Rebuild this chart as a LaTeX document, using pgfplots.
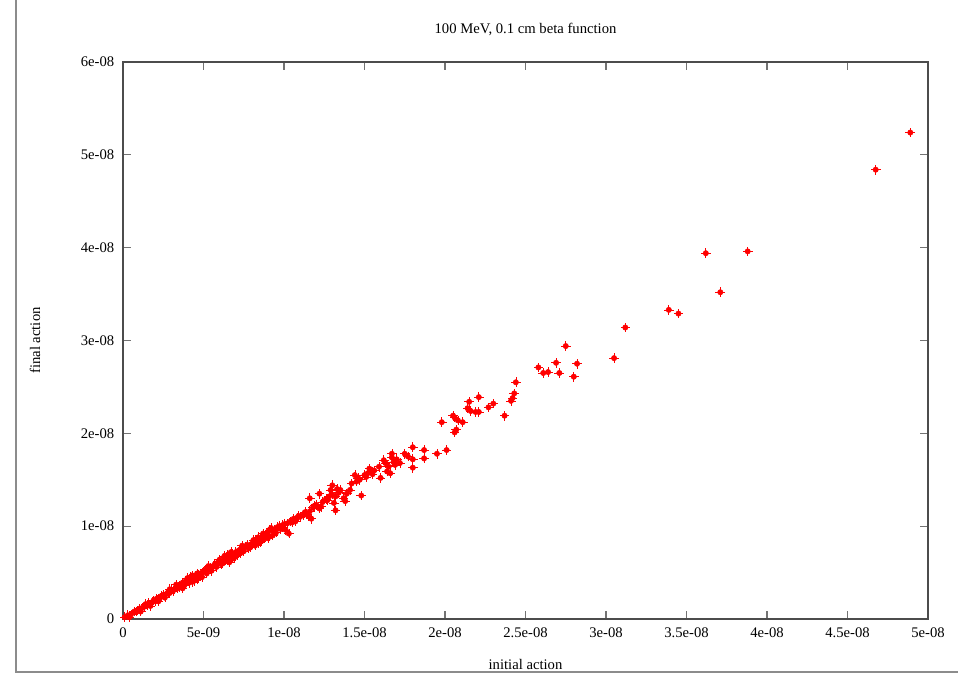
\documentclass[border=0pt]{standalone}
\usepackage{pgfplots}
\pgfplotsset{compat=1.18}
\usepackage{fontspec}
\setmainfont{Liberation Serif}
% values in units of 1e-9; each "+" is drawn as a pair of fixed-size error bars
\begin{document}
\begin{tikzpicture}
\begin{axis}[
  scale only axis,
  width=603.75pt, height=417.75pt,
  xmin=0, xmax=50, ymin=0, ymax=60,
  xtick={0,5,...,50},
  xticklabels={0,5e-09,1e-08,1.5e-08,2e-08,2.5e-08,3e-08,3.5e-08,4e-08,4.5e-08,5e-08},
  ytick={0,10,...,60},
  yticklabels={0,1e-08,2e-08,3e-08,4e-08,5e-08,6e-08},
  tick align=inside,
  major tick length=6pt,
  xtick pos=both, ytick pos=both,
  tick style={draw=black!55, line width=1pt},
  axis line style={draw=black!70, line width=1.3pt},
  every tick label/.append style={font=\fontsize{11}{13}\selectfont, text=black},
  xticklabel style={yshift=-3pt},
  yticklabel style={xshift=-3pt},
  title={100 MeV, 0.1 cm beta function},
  title style={font=\fontsize{11}{13}\selectfont, text=black, at={(0.5,1)}, anchor=center, yshift=18.75pt},
  xlabel={initial action},
  ylabel={final action},
  label style={font=\fontsize{11}{13}\selectfont, text=black},
  xlabel style={at={(0.5,0)}, anchor=center, yshift=-33.75pt},
  ylabel style={at={(0,0.5)}, anchor=center, yshift=66pt},
  clip=false,
]
\addplot[only marks, mark=none, red,
  error bars/.cd, x dir=both, y dir=both, x fixed=0.3, y fixed=0.52,
  error mark=none, error bar style={draw=red, line width=0.5pt, line cap=butt}] table {
x y
0.1 0.2
0.3 0.4
0.4 0.2
0.5 0.5
0.7 0.8
0.85 0.8
0.9 0.9
1.0 1.1
1.1 0.8
1.2 1.2
1.3 1.3
1.4 1.6
1.5 1.5
1.6 1.7
1.7 1.4
1.8 1.8
1.9 2.0
2.0 1.9
2.1 2.2
2.2 2.2
2.2 1.9
2.3 2.3
2.4 2.5
2.5 2.6
2.6 2.3
2.7 2.7
2.8 2.9
2.9 2.8
2.9 3.2
3.0 3.1
3.1 3.0
3.2 3.2
3.3 3.4
3.3 3.7
3.4 3.3
3.5 3.6
3.5 3.4
3.6 3.7
3.6 3.5
3.7 3.9
3.7 3.3
3.8 3.6
3.9 3.8
3.9 4.1
4.0 4.1
4.0 4.4
4.1 3.9
4.1 4.3
4.2 4.2
4.2 4.5
4.3 4.0
4.3 4.7
4.4 4.4
4.4 4.1
4.5 4.6
4.6 4.3
4.6 4.9
4.7 4.8
4.7 4.4
4.8 4.6
4.9 5.0
4.9 4.5
5.0 5.1
5.1 5.3
5.2 4.9
5.3 5.3
5.3 5.7
5.4 5.5
5.5 5.2
5.6 5.7
5.7 5.9
5.8 5.6
5.9 6.1
6.0 6.2
6.0 6.4
6.1 5.9
6.2 6.0
6.3 6.4
6.3 6.8
6.4 6.6
6.5 6.3
6.5 6.9
6.5 6.7
6.6 6.1
6.6 6.8
6.7 6.7
6.7 7.2
6.8 7.0
6.8 6.5
6.9 6.6
7.0 7.2
7.0 6.8
7.1 6.9
7.1 7.1
7.2 7.4
7.3 7.1
7.3 7.5
7.4 7.6
7.4 7.9
7.5 7.3
7.6 7.8
7.7 8.0
7.8 7.6
7.9 7.7
8.0 8.1
8.0 8.0
8.1 8.3
8.1 8.5
8.2 7.9
8.2 8.5
8.3 8.4
8.3 8.2
8.4 8.2
8.4 8.8
8.5 8.6
8.5 8.3
8.6 8.4
8.7 8.9
8.7 9.2
8.8 8.7
8.8 9.0
8.9 9.1
9.0 9.4
9.0 8.7
9.0 9.0
9.1 8.9
9.1 9.6
9.2 9.8
9.3 9.0
9.3 9.5
9.4 9.6
9.5 9.3
9.6 9.9
9.7 10.0
9.8 9.7
9.9 9.9
9.9 10.1
10.0 10.2
10.1 9.6
10.2 10.3
10.3 9.2
10.4 10.5
10.5 10.4
10.6 10.8
10.7 10.5
10.8 10.9
10.9 11.1
11.0 11.0
11.2 11.2
11.3 11.5
11.4 11.3
11.5 11.1
11.6 11.6
11.6 13.0
11.7 10.8
11.8 12.0
11.9 12.2
12.0 12.3
12.2 11.9
12.2 13.5
12.3 12.1
12.4 12.6
12.6 12.9
12.7 12.8
12.8 13.2
12.9 13.9
13.0 14.4
13.0 13.4
13.1 12.5
13.2 13.2
13.2 11.7
13.3 14.0
13.4 13.6
13.5 13.9
13.7 13.0
13.8 12.7
13.9 13.5
14.1 13.9
14.2 14.6
14.4 15.5
14.5 14.8
14.6 15.2
14.7 15.0
14.8 13.3
15.0 15.5
15.1 15.3
15.2 15.7
15.3 16.2
15.4 15.9
15.5 15.6
15.5 15.9
15.6 16.0
15.9 16.4
16.0 15.2
16.2 17.1
16.3 16.8
16.4 15.9
16.5 16.4
16.6 15.7
16.7 17.8
16.7 17.4
16.8 16.9
16.9 16.6
17.0 17.2
17.2 16.8
17.5 17.8
17.7 17.5
18.0 17.2
18.0 18.5
18.0 16.3
18.7 18.2
18.7 17.3
19.5 17.8
20.1 18.2
19.8 21.2
20.5 21.9
20.6 21.7
20.8 21.4
21.1 21.2
20.7 20.4
20.6 20.1
21.5 23.4
21.4 22.7
21.6 22.4
21.9 22.3
22.1 22.3
22.1 23.9
22.7 22.8
23.0 23.2
23.7 21.9
24.1 23.5
24.2 23.8
24.3 24.3
24.4 25.5
25.8 27.1
26.1 26.5
26.4 26.6
26.9 27.6
27.1 26.5
27.5 29.4
28.0 26.1
28.2 27.5
30.5 28.1
31.2 31.4
33.9 33.3
34.5 32.9
36.2 39.4
37.1 35.2
38.8 39.6
46.75 48.4
48.9 52.4
};
\end{axis}
\pgfresetboundingbox
\path[use as bounding box] ([xshift=-92.25pt,yshift=-40.5pt]current axis.south west) rectangle ([xshift=29.25pt,yshift=46.5pt]current axis.north east);
\draw[black!45, line width=0.8pt] ([xshift=-80.25pt,yshift=46.5pt]current axis.north west) -- ([xshift=-80.25pt,yshift=-39.75pt]current axis.south west) -- ([xshift=22.5pt,yshift=-39.75pt]current axis.south east);
\end{tikzpicture}
\end{document}
